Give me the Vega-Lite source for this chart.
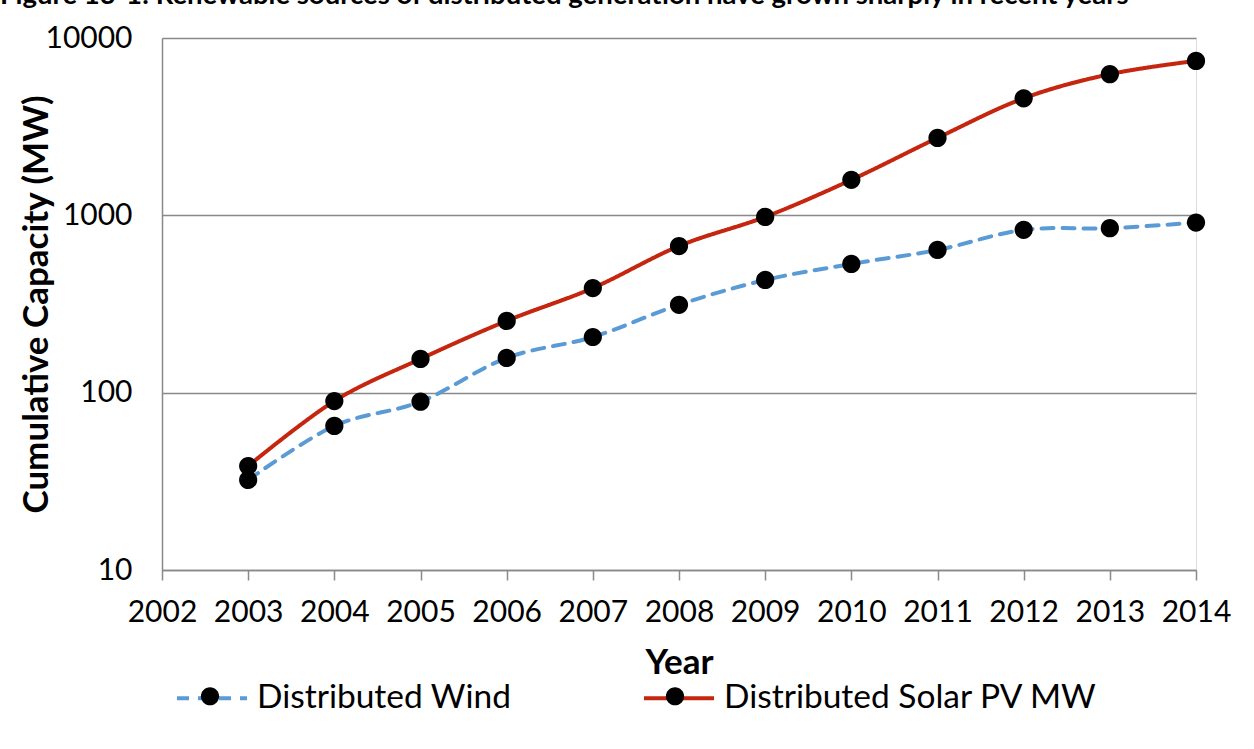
{
  "$schema": "https://vega.github.io/schema/vega-lite/v6.json",
  "width": 1034,
  "height": 532,
  "autosize": {"type": "none"},
  "padding": {"left": 162, "top": 38, "right": 58, "bottom": 179},
  "background": "white",
  "title": {
    "text": "Figure 13-1: Renewable sources of distributed generation have grown sharply in recent years",
    "anchor": "start",
    "frame": "group",
    "dx": -162,
    "offset": -8,
    "baseline": "alphabetic",
    "fontSize": 27.5,
    "font": "Lato",
    "fontWeight": "bold",
    "color": "black"
  },
  "data": {
    "values": [
      {"year": 2003, "series": "Distributed Wind", "value": 32.2},
      {"year": 2004, "series": "Distributed Wind", "value": 64.9},
      {"year": 2005, "series": "Distributed Wind", "value": 89},
      {"year": 2006, "series": "Distributed Wind", "value": 157},
      {"year": 2007, "series": "Distributed Wind", "value": 206},
      {"year": 2008, "series": "Distributed Wind", "value": 313},
      {"year": 2009, "series": "Distributed Wind", "value": 432},
      {"year": 2010, "series": "Distributed Wind", "value": 532},
      {"year": 2011, "series": "Distributed Wind", "value": 638},
      {"year": 2012, "series": "Distributed Wind", "value": 828},
      {"year": 2013, "series": "Distributed Wind", "value": 846},
      {"year": 2014, "series": "Distributed Wind", "value": 910},
      {"year": 2003, "series": "Distributed Solar PV MW", "value": 38.6},
      {"year": 2004, "series": "Distributed Solar PV MW", "value": 89.7},
      {"year": 2005, "series": "Distributed Solar PV MW", "value": 155},
      {"year": 2006, "series": "Distributed Solar PV MW", "value": 254},
      {"year": 2007, "series": "Distributed Solar PV MW", "value": 389},
      {"year": 2008, "series": "Distributed Solar PV MW", "value": 671},
      {"year": 2009, "series": "Distributed Solar PV MW", "value": 980},
      {"year": 2010, "series": "Distributed Solar PV MW", "value": 1585},
      {"year": 2011, "series": "Distributed Solar PV MW", "value": 2733},
      {"year": 2012, "series": "Distributed Solar PV MW", "value": 4570},
      {"year": 2013, "series": "Distributed Solar PV MW", "value": 6250},
      {"year": 2014, "series": "Distributed Solar PV MW", "value": 7430}
    ]
  },
  "encoding": {
    "x": {
      "field": "year",
      "type": "quantitative",
      "scale": {"domain": [2002, 2014], "nice": false, "zero": false},
      "axis": {
        "values": [2002, 2003, 2004, 2005, 2006, 2007, 2008, 2009, 2010, 2011, 2012, 2013, 2014],
        "format": "d",
        "title": "Year",
        "titleFont": "Lato",
        "titleFontSize": 35,
        "titleFontWeight": "bold",
        "titleColor": "black",
        "titlePadding": 18,
        "labelFont": "Lato",
        "labelFontSize": 30,
        "labelColor": "black",
        "labelPadding": 17,
        "labelFlush": false,
        "labelOverlap": false,
        "tickSize": 10,
        "tickColor": "#898989",
        "tickWidth": 1.5,
        "domainColor": "#898989",
        "domainWidth": 1.5,
        "grid": false
      }
    },
    "y": {
      "field": "value",
      "type": "quantitative",
      "scale": {"type": "log", "domain": [10, 10000], "nice": false},
      "axis": {
        "values": [10, 100, 1000, 10000],
        "format": "d",
        "title": "Cumulative Capacity (MW)",
        "titleFont": "Lato",
        "titleFontSize": 35,
        "titleFontWeight": "bold",
        "titleColor": "black",
        "titlePadding": -10,
        "labelFont": "Lato",
        "labelFontSize": 30,
        "labelColor": "black",
        "labelPadding": 30,
        "ticks": false,
        "domainColor": "#898989",
        "domainWidth": 1.5,
        "grid": true,
        "gridColor": "#898989",
        "gridWidth": 1.5
      }
    }
  },
  "layer": [
    {
      "mark": {"type": "line", "interpolate": "cardinal", "strokeWidth": 4, "strokeCap": "round"},
      "encoding": {
        "color": {
          "field": "series",
          "type": "nominal",
          "scale": {"domain": ["Distributed Wind", "Distributed Solar PV MW"], "range": ["#5B9BD5", "#C4260F"]},
          "legend": {
            "orient": "none",
            "legendX": 13,
            "legendY": 623,
            "direction": "horizontal",
            "title": null,
            "symbolType": "stroke",
            "symbolSize": 4900,
            "symbolStrokeWidth": 4,
            "labelFont": "Lato",
            "labelFontSize": 33.5,
            "labelColor": "black",
            "labelOffset": 8,
            "labelLimit": 800,
            "columnPadding": 124
          }
        },
        "strokeDash": {
          "field": "series",
          "type": "nominal",
          "scale": {"domain": ["Distributed Wind", "Distributed Solar PV MW"], "range": [[12, 9], [1, 0]]},
          "legend": {
            "orient": "none",
            "legendX": 13,
            "legendY": 623,
            "direction": "horizontal",
            "title": null,
            "symbolType": "stroke",
            "symbolSize": 4900,
            "symbolStrokeWidth": 4,
            "labelFont": "Lato",
            "labelFontSize": 33.5,
            "labelColor": "black",
            "labelOffset": 8,
            "labelLimit": 800,
            "columnPadding": 124
          }
        }
      }
    },
    {
      "mark": {"type": "point", "filled": true, "color": "black", "opacity": 1, "size": 4900, "strokeWidth": 0},
      "encoding": {
        "shape": {
          "field": "series",
          "type": "nominal",
          "sort": ["Distributed Wind", "Distributed Solar PV MW"],
          "scale": {"range": ["M-0.26,0A0.26,0.26 0 1,1 0.26,0A0.26,0.26 0 1,1 -0.26,0Z", "M-0.26,0A0.26,0.26 0 1,1 0.26,0A0.26,0.26 0 1,1 -0.26,0Z"]},
          "legend": {
            "orient": "none",
            "legendX": 13,
            "legendY": 623,
            "direction": "horizontal",
            "title": null,
            "symbolSize": 4900,
            "symbolFillColor": "black",
            "symbolStrokeWidth": 0,
            "symbolOpacity": 1,
            "labelExpr": "''",
            "labelFont": "Lato",
            "labelFontSize": 33.5,
            "labelOffset": 8,
            "columnPadding": 387
          }
        }
      }
    }
  ]
}
